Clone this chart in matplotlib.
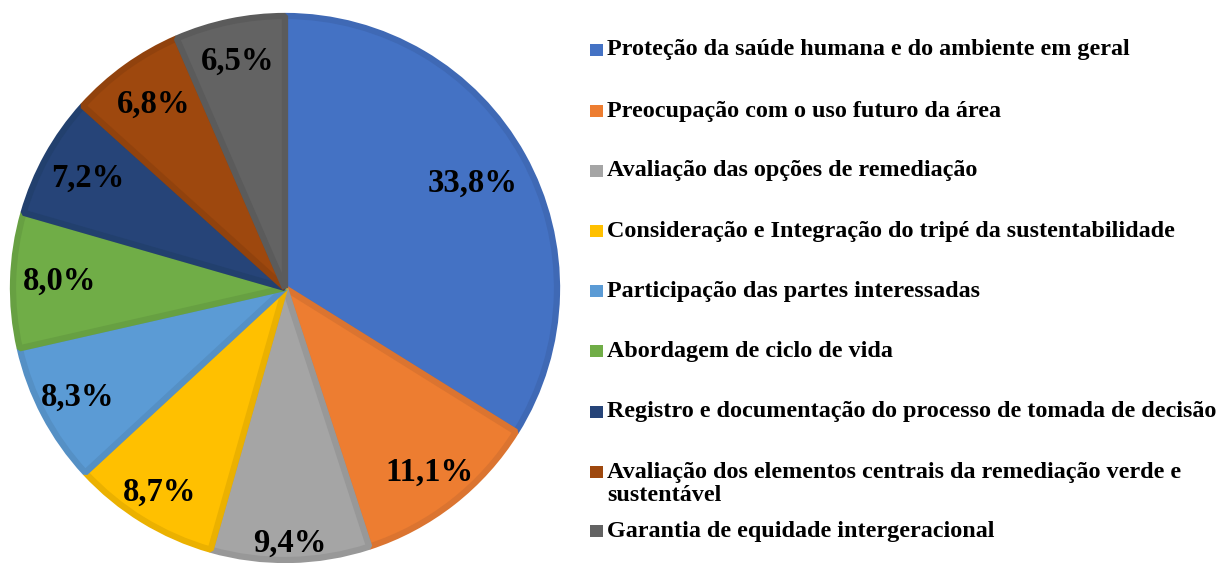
import numpy as np
import matplotlib.pyplot as plt
from matplotlib.patches import Rectangle

plt.rcParams['font.family'] = ['Liberation Serif', 'DejaVu Serif']

categorias = [
    'Proteção da saúde humana e do ambiente em geral',
    'Preocupação com o uso futuro da área',
    'Avaliação das opções de remediação',
    'Consideração e Integração do tripé da sustentabilidade',
    'Participação das partes interessadas',
    'Abordagem de ciclo de vida',
    'Registro e documentação do processo de tomada de decisão',
    'Avaliação dos elementos centrais da remediação verde e\nsustentável',
    'Garantia de equidade intergeracional',
]
percentuais = [33.8, 11.1, 9.4, 8.7, 8.3, 8.0, 7.2, 6.8, 6.5]
rotulos = ['33,8%', '11,1%', '9,4%', '8,7%', '8,3%', '8,0%', '7,2%', '6,8%', '6,5%']

cores = ['#4472C4', '#ED7D31', '#A5A5A5', '#FFC000', '#5B9BD5',
         '#70AD47', '#264478', '#9E480E', '#636363']
bordas = ['#3F69B5', '#DB7430', '#989898', '#EBB100', '#5590C5',
          '#67A042', '#22406E', '#91420D', '#5B5B5B']
# distância radial de cada rótulo (fração do raio)
dist_rotulo = [0.79, 0.86, 0.94, 0.88, 0.86, 0.83, 0.83, 0.83, 0.85]

W, H = 1222, 563
fig = plt.figure(figsize=(W / 100, H / 100), dpi=100)

cx, cy, r = 285, 288, 272
ax = fig.add_axes([(cx - r) / W, (H - cy - r) / H, 2 * r / W, 2 * r / H])
wedges, _ = ax.pie(percentuais, colors=cores, startangle=90, counterclock=False,
                   radius=1.0, wedgeprops=dict(linewidth=0))
# borda mais escura em cada fatia
for w, b in zip(wedges, bordas):
    w.set_edgecolor(b)
    w.set_linewidth(4.5)
    w.set_joinstyle('bevel')
ax.set_xlim(-1, 1)
ax.set_ylim(-1, 1)
ax.set_aspect('equal')

for w, txt, d in zip(wedges, rotulos, dist_rotulo):
    ang = np.deg2rad((w.theta1 + w.theta2) / 2)
    ax.text(d * np.cos(ang), d * np.sin(ang), txt, ha='center', va='center',
            fontsize=23.5, fontweight='bold', color='black')

# legenda
ys = [50, 111, 171, 231, 291, 351, 412, 472, 531]
for cat, cor, y in zip(categorias, cores, ys):
    fig.patches.append(Rectangle((590 / W, 1 - (y + 6) / H), 13 / W, 12 / H,
                                 transform=fig.transFigure, facecolor=cor,
                                 edgecolor='none'))
    yt = y + 12 if '\n' in cat else y
    fig.text(607 / W, 1 - yt / H, cat, ha='left', va='center',
             fontsize=17.4, fontweight='bold', linespacing=1.08,
             transform=fig.transFigure)

fig.savefig('out.png', dpi=100)
